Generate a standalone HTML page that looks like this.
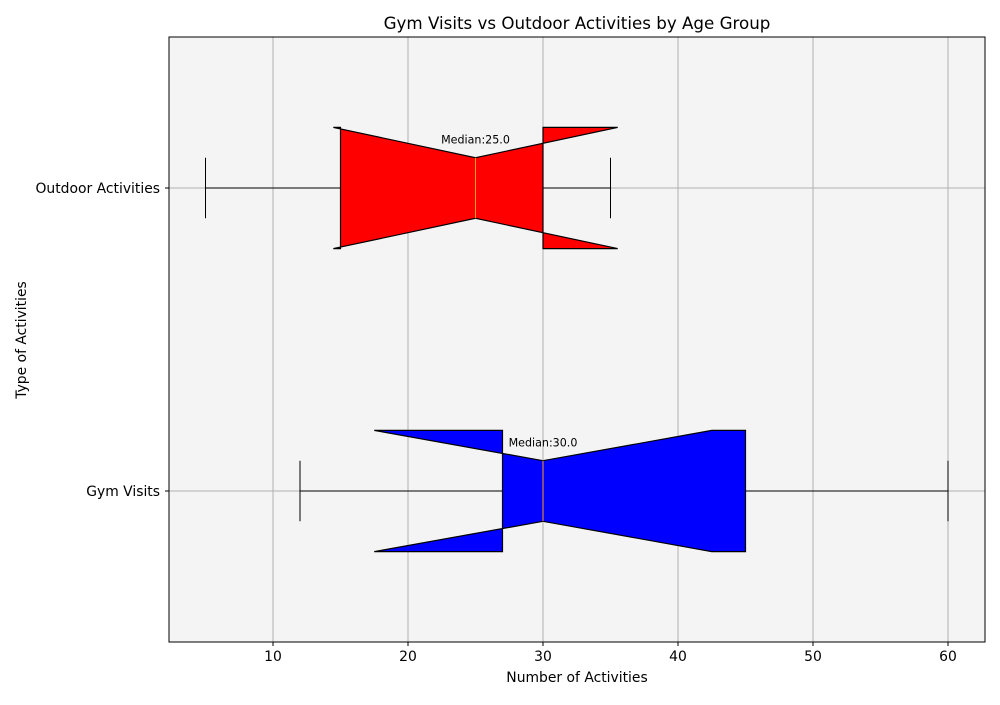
<!DOCTYPE html>
<html><head><meta charset="utf-8"><style>
body{margin:0;background:#fff;font-family:"Liberation Sans","DejaVu Sans",sans-serif;}
svg text{font-family:"DejaVu Sans","Liberation Sans",sans-serif;}
</style></head><body>
<svg id="chart" width="1000" height="700" xmlns="http://www.w3.org/2000/svg">
<rect x="0" y="0" width="1000" height="700" fill="#fff"/>
<rect x="169" y="37" width="816" height="605" fill="#f4f4f4"/>
<g id="grid"></g><g id="marks"></g>
<rect x="169" y="37" width="816" height="605" fill="none" stroke="#000" stroke-width="1"/>
<text x="577" y="29" font-size="16.7" text-anchor="middle">Gym Visits vs Outdoor Activities by Age Group</text>
<text x="577" y="682" font-size="13.9" text-anchor="middle">Number of Activities</text>
<text x="26" y="340" font-size="13.9" text-anchor="middle" transform="rotate(-90 26 340)">Type of Activities</text>
<g id="ticks"></g>
</svg>
<script>
const categories=["Gym Visits","Outdoor Activities"];
const whiskLo=[12,5];
const q1=[27,15];
const medians=[30,25];
const q3=[45,30];
const whiskHi=[60,35];
const notchLo=[17.5,14.47];
const notchHi=[42.5,35.53];
const colors=["#0000ff","#ff0000"];
const xTicks=[10,20,30,40,50,60];
const NS="http://www.w3.org/2000/svg";
const X=v=>138+v*13.5;
const Y=p=>491-(p-1)*303;
function mk(tag,attrs,parent){const e=document.createElementNS(NS,tag);for(const k in attrs)e.setAttribute(k,attrs[k]);document.getElementById(parent).appendChild(e);return e;}
xTicks.forEach(t=>{
 const g=mk('line',{x1:X(t),x2:X(t),y1:37,y2:642,stroke:'#b0b0b0','stroke-width':1},'grid');
 
 
 mk('line',{x1:X(t),x2:X(t),y1:642,y2:646,stroke:'#000'},'ticks');
 const l=mk('text',{x:X(t),y:661,'font-size':13.9,'text-anchor':'middle'},'ticks');l.textContent=t;
 
 
});
categories.forEach((c,i)=>{
 const p=i+1,y=Y(p);
 const g=mk('line',{x1:169,x2:985,y1:y,y2:y,stroke:'#b0b0b0'},'grid');
 
 
 mk('line',{x1:165,x2:169,y1:y,y2:y,stroke:'#000'},'ticks');
 const l=mk('text',{x:160,y:y+5,'font-size':13.9,'text-anchor':'end'},'ticks');l.textContent=c;
 
 
 const w=0.4,top=Y(p+w/2),bot=Y(p-w/2),qt=Y(p+w/4),qb=Y(p-w/4);
 [[whiskLo[i],q1[i]],[q3[i],whiskHi[i]]].forEach(([a,b])=>{
  const wl=mk('line',{x1:X(a),x2:X(b),y1:y,y2:y,stroke:'#000'},'marks');
  
  
 });
 [whiskLo[i],whiskHi[i]].forEach(v=>{
  const cp=mk('line',{x1:X(v),x2:X(v),y1:qt,y2:qb,stroke:'#000'},'marks');
  
  
 });
 const pts=[[q1[i],bot],[notchLo[i],bot],[medians[i],qb],[notchHi[i],bot],[q3[i],bot],[q3[i],top],[notchHi[i],top],[medians[i],qt],[notchLo[i],top],[q1[i],top]];
 const box=mk('polygon',{points:pts.map(([v,yy])=>X(v)+','+yy).join(' '),fill:colors[i],stroke:'#000','stroke-width':1.2,'stroke-linejoin':'miter'},'marks');
 
 
 const m=mk('line',{x1:X(medians[i]),x2:X(medians[i]),y1:qt,y2:qb,stroke:'#ff9f0e','stroke-width':1},'marks');
 
 
 const t=mk('text',{x:X(medians[i]),y:Y(p+0.15)+1,'font-size':11.1,'text-anchor':'middle'},'marks');
 t.textContent='Median:'+medians[i].toFixed(1);
 
 
});
</script>
</body></html>
